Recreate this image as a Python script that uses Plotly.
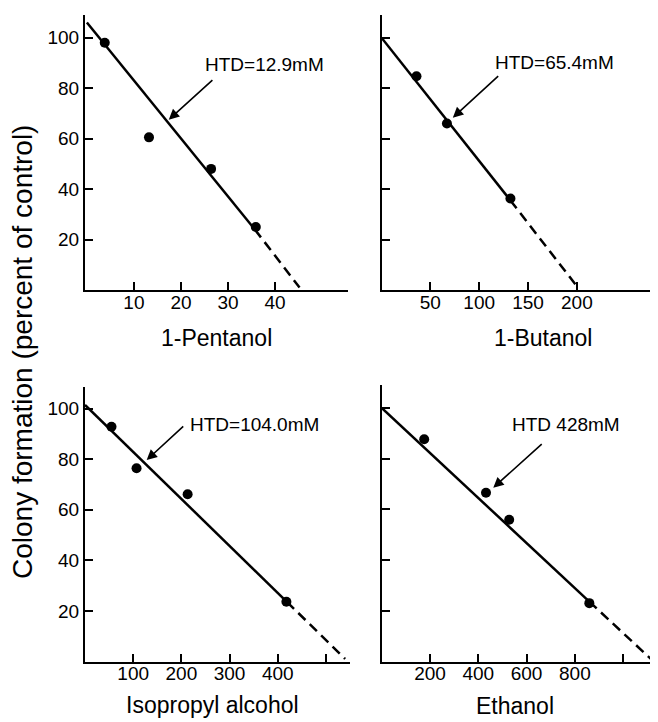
import plotly.graph_objects as go

# ---------------- data ----------------
y_title = "Colony formation (percent of control)"

pent_x = [3.8, 13.2, 26.4, 35.9]
pent_y = [98, 60.5, 48, 25]
pent_fit_x = [0, 35.7, 45.2]
pent_fit_y = [106, 24, 1]
pent_label = "1-Pentanol"
pent_htd = "HTD=12.9mM"

but_x = [35.8, 67, 132]
but_y = [84.7, 66, 36.3]
but_fit_x = [0, 132, 201]
but_fit_y = [100, 35.5, 1]
but_label = "1-Butanol"
but_htd = "HTD=65.4mM"

iso_x = [55, 107, 213, 418]
iso_y = [92.8, 76.4, 66.1, 23.6]
iso_fit_x = [0, 419, 540]
iso_fit_y = [101.4, 23.6, 1]
iso_label = "Isopropyl alcohol"
iso_htd = "HTD=104.0mM"

eth_x = [176, 432, 528, 860]
eth_y = [87.6, 66.5, 55.9, 23]
eth_fit_x = [0, 860, 1115]
eth_fit_y = [100, 23.6, 1]
eth_label = "Ethanol"
eth_htd = "HTD 428mM"

y_ticks = [20, 40, 60, 80, 100]
pent_ticks = [10, 20, 30, 40]
but_ticks = [50, 100, 150, 200]
iso_ticks = [100, 200, 300, 400, 500]
iso_ticktext = ["100", "200", "300", "400", ""]
eth_ticks = [200, 400, 600, 800, 1000]
eth_ticktext = ["200", "400", "600", "800", ""]

# arrow positions (tail, head) and text anchors in data units
pent_arrow = dict(tail=(27, 83.7), head=(17.4, 67.5), text=(24.6, 89.3))
but_arrow = dict(tail=(121, 85.3), head=(73, 68.3), text=(114, 90))
iso_arrow = dict(tail=(207, 93.5), head=(128, 79.6), text=(214, 93.5))
eth_arrow = dict(tail=(669, 86.2), head=(462, 68.5), text=(531, 93.5))

# ---------------- figure ----------------
OFF = 8              # page body margin
W, H = 650, 714
FONT = "Liberation Sans, Arial, sans-serif"

fig = go.Figure()

panels = [
    ("x", "y", pent_x, pent_y, pent_fit_x, pent_fit_y, pent_arrow, pent_htd),
    ("x2", "y2", but_x, but_y, but_fit_x, but_fit_y, but_arrow, but_htd),
    ("x3", "y3", iso_x, iso_y, iso_fit_x, iso_fit_y, iso_arrow, iso_htd),
    ("x4", "y4", eth_x, eth_y, eth_fit_x, eth_fit_y, eth_arrow, eth_htd),
]

annotations = []
for xa, ya, px, py, fx, fy, arr, htd in panels:
    fig.add_trace(go.Scatter(x=fx[:2], y=fy[:2], mode="lines", xaxis=xa, yaxis=ya,
                             line=dict(color="black", width=2.5), showlegend=False,
                             hoverinfo="skip"))
    fig.add_trace(go.Scatter(x=fx[1:], y=fy[1:], mode="lines", xaxis=xa, yaxis=ya,
                             line=dict(color="black", width=2.5, dash="10px,6px"),
                             showlegend=False, hoverinfo="skip"))
    fig.add_trace(go.Scatter(x=px, y=py, mode="markers", xaxis=xa, yaxis=ya,
                             marker=dict(color="black", size=10), showlegend=False))
    annotations.append(dict(x=arr["head"][0], y=arr["head"][1], ax=arr["tail"][0],
                            ay=arr["tail"][1], xref=xa, yref=ya, axref=xa, ayref=ya,
                            text="", showarrow=True, arrowhead=2, arrowsize=1.3,
                            arrowwidth=1.6, arrowcolor="black", standoff=0,
                            startstandoff=0))
    annotations.append(dict(x=arr["text"][0], y=arr["text"][1], xref=xa, yref=ya,
                            text=htd, showarrow=False, xanchor="left", yanchor="middle",
                            font=dict(family=FONT, size=19, color="black")))

def px2fx(p):
    return (p - OFF) / W

def py2fy(p):
    return 1 - (p - OFF) / H

# axis titles as annotations placed in paper coordinates
for label, cx, cy in [(pent_label, 216, 338), (but_label, 543, 338),
                      (iso_label, 212, 705), (eth_label, 515, 706)]:
    annotations.append(dict(x=px2fx(cx), y=py2fy(cy), xref="paper", yref="paper",
                            text=label, showarrow=False, xanchor="center", yanchor="middle",
                            font=dict(family=FONT, size=23, color="black")))

annotations.append(dict(x=px2fx(22), y=py2fy(352), xref="paper", yref="paper",
                        text=y_title, showarrow=False, textangle=-90,
                        xanchor="center", yanchor="middle",
                        font=dict(family=FONT, size=28, color="black")))

axis_common = dict(showgrid=False, zeroline=False, showline=True, linecolor="black",
                   linewidth=2, ticks="inside", ticklen=8, tickwidth=1.6,
                   tickcolor="black", tickfont=dict(family=FONT, size=19, color="black"))
xcommon = dict(ticklabelstandoff=-6, **axis_common)
ycommon = dict(ticklabelstandoff=0, **axis_common)

fig.update_layout(
    width=W, height=H,
    margin=dict(l=0, r=0, t=0, b=0),
    paper_bgcolor="white", plot_bgcolor="white",
    showlegend=False,
    annotations=annotations,
    xaxis=dict(domain=[px2fx(85), px2fx(348)], range=[-0.4, 55.5], anchor="y",
               tickvals=pent_ticks, **xcommon),
    yaxis=dict(domain=[py2fy(290), py2fy(15)], range=[0, 109], anchor="x",
               tickvals=y_ticks, **ycommon),
    xaxis2=dict(domain=[px2fx(381.5), px2fx(655)], range=[0, 280], anchor="y2",
                tickvals=but_ticks, **xcommon),
    yaxis2=dict(domain=[py2fy(290), py2fy(15)], range=[0, 109], anchor="x2",
                tickvals=y_ticks, showticklabels=False, **ycommon),
    xaxis3=dict(domain=[px2fx(85), px2fx(350)], range=[0, 550], anchor="y3",
                tickvals=iso_ticks, ticktext=iso_ticktext, **xcommon),
    yaxis3=dict(domain=[py2fy(661.5), py2fy(387)], range=[0, 108.5], anchor="x3",
                tickvals=y_ticks, **ycommon),
    xaxis4=dict(domain=[px2fx(381.7), px2fx(655)], range=[0, 1132], anchor="y4",
                tickvals=eth_ticks, ticktext=eth_ticktext, **xcommon),
    yaxis4=dict(domain=[py2fy(661.5), py2fy(385)], range=[0, 109], anchor="x4",
                tickvals=y_ticks, showticklabels=False, **ycommon),
)

fig.write_html("out.html")
